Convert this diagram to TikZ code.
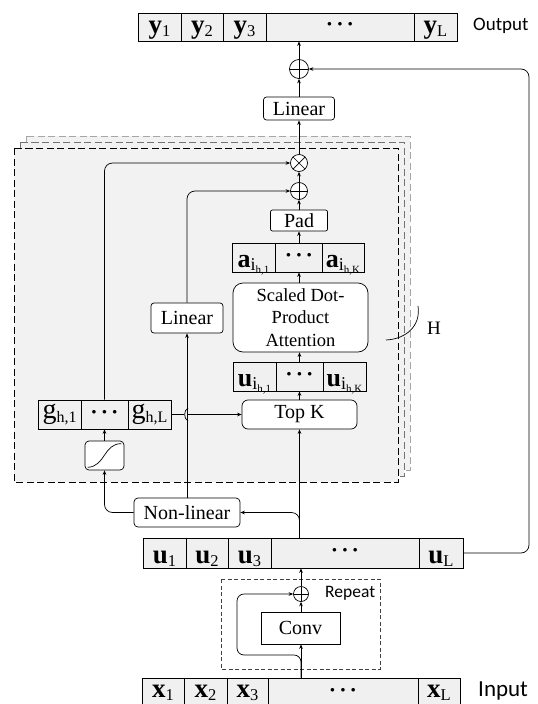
\documentclass[tikz,border=0pt]{standalone}
\usepackage{fontspec}
\setmainfont{Liberation Serif}
\newfontfamily\sansf{Carlito}
\usetikzlibrary{arrows.meta,calc}
\definecolor{bgfill}{HTML}{F2F2F2}
\definecolor{cellfill}{HTML}{F0F0F0}
\newcommand{\cv}[2]{{\fontsize{27}{27}\selectfont\bfseries #1}\raisebox{-3pt}{\fontsize{16.5}{16.5}\selectfont #2}}
\newcommand{\cvv}[3]{{\fontsize{26}{26}\selectfont\bfseries #1}\raisebox{-3pt}{\fontsize{18}{18}\selectfont #2\raisebox{-3pt}{\fontsize{11}{11}\selectfont #3}}}
\newcommand{\cg}[2]{{\fontsize{28}{28}\selectfont #1}\raisebox{-4pt}{\fontsize{16}{16}\selectfont #2}}
\newcommand{\cdd}{{\fontsize{22}{22}\selectfont\bfseries ·\hspace{3pt}·\hspace{3pt}·}}
\tikzset{
  conn/.style={line width=0.7pt, -{Stealth[length=4.5pt,width=3.6pt]}},
  plainln/.style={line width=0.7pt},
  cellbox/.style={draw, line width=0.7pt, fill=cellfill, inner sep=0pt},
  lowtxt/.style={text height=21pt, text depth=1pt},
  ytxt/.style={text height=19pt, text depth=6pt},
  tbox/.style={draw, fill=white, line width=0.7pt, inner sep=0pt, rounded corners=#1, font=\fontsize{20}{22.5}\selectfont},
  tbox/.default=3pt,
  stackbox/.style={fill=bgfill, line width=0.7pt, dash pattern=on 7pt off 3.5pt},
  oplus/.style={circle, draw, line width=0.7pt, fill=white, inner sep=0pt, minimum size=#1,
    path picture={\draw[line width=0.7pt] (path picture bounding box.north) -- (path picture bounding box.south)
      (path picture bounding box.west) -- (path picture bounding box.east);}},
  otimes/.style={circle, draw, line width=0.7pt, fill=white, inner sep=0pt, minimum size=#1,
    path picture={\draw[line width=0.7pt] (path picture bounding box.north west) -- (path picture bounding box.south east)
      (path picture bounding box.south west) -- (path picture bounding box.north east);}},
  sidelabel/.style={anchor=west, inner sep=0pt}
}
\begin{document}
\begin{tikzpicture}[x=1pt,y=-1pt]
\useasboundingbox (0,0) rectangle (538,704);
% stacked head boxes
\draw[stackbox, draw=black!35] (26,136) rectangle (410,470);
\draw[stackbox, draw=black!55] (20,142) rectangle (404,476);
\draw[stackbox, draw=black] (14,148) rectangle (398,482);
% repeat box
\draw[line width=0.7pt, dash pattern=on 4pt off 2.5pt, draw=black!75] (221,579) rectangle (380,669);

% output row
\node[cellbox, ytxt, minimum width=43, minimum height=28] (y1) at (159.5,27) {\cv{y}{1}};
\node[cellbox, ytxt, minimum width=42, minimum height=28] (y2) at (202,27) {\cv{y}{2}};
\node[cellbox, ytxt, minimum width=43, minimum height=28] (y3) at (244.5,27) {\cv{y}{3}};
\node[cellbox, minimum width=148, minimum height=28] (yd) at (340,27) {\cdd};
\node[cellbox, ytxt, minimum width=43, minimum height=28] (yL) at (435.5,27) {\cv{y}{L}};
\node[sidelabel, font=\sansf\fontsize{19}{19}\selectfont] (outlbl) at (473,26) {Output};

\node[oplus=19] (op1) at (299,69) {};
\node[tbox=3pt, minimum width=71, minimum height=23] (lin1) at (299,108.5) {Linear};

\node[otimes=17] (ot) at (299,163) {};
\node[oplus=17] (op2) at (299,191) {};
\node[tbox=2pt, minimum width=57, minimum height=21] (pad) at (299,220.5) {Pad};

\node[cellbox, lowtxt, minimum width=43, minimum height=29] (a1) at (253.5,257.5) {\cvv{a}{i}{h,1}};
\node[cellbox, minimum width=47, minimum height=29] (a2) at (299,257.5) {\cdd};
\node[cellbox, lowtxt, minimum width=42, minimum height=29] (a3) at (343,257.5) {\cvv{a}{i}{h,K}};

\node[tbox=10pt, minimum width=135, minimum height=69, align=center, font=\fontsize{18.5}{22.5}\selectfont] (att) at (300.5,317.5) {Scaled Dot-\\Product\\Attention};
\node[tbox=3pt, minimum width=72, minimum height=30] (lin2) at (187,318) {Linear};

\node[cellbox, lowtxt, minimum width=43, minimum height=29] (u1i) at (254.5,376.5) {\cvv{u}{i}{h,1}};
\node[cellbox, minimum width=47, minimum height=29] (u2i) at (299.5,376.5) {\cdd};
\node[cellbox, lowtxt, minimum width=43, minimum height=29] (u3i) at (344.5,376.5) {\cvv{u}{i}{h,K}};

\node[tbox=6pt, minimum width=115, minimum height=29] (topk) at (299.5,414.5) {Top K};

\node[cellbox, minimum width=43, minimum height=29] (g1) at (59.5,414.5) {\cg{g}{h,1}};
\node[cellbox, minimum width=47, minimum height=29] (g2) at (104.5,414.5) {\cdd};
\node[cellbox, minimum width=43, minimum height=29] (g3) at (149.5,414.5) {\cg{g}{h,L}};

\node[tbox=4pt, minimum width=39, minimum height=29] (sig) at (104.5,455.5) {};
\draw[plainln] ($(sig.south west)+(3,-3)$) .. controls ($(sig.south west)+(21,-4)$) and ($(sig.north east)+(-21,3)$) .. ($(sig.north east)+(-3,3)$);

\node[tbox=4pt, minimum width=106, minimum height=29] (nl) at (187,512.5) {Non-linear};

% u row
\node[cellbox, lowtxt, minimum width=43, minimum height=30] (u1) at (164.5,553) {\cv{u}{1}};
\node[cellbox, lowtxt, minimum width=42, minimum height=30] (u2) at (207,553) {\cv{u}{2}};
\node[cellbox, lowtxt, minimum width=43, minimum height=30] (u3) at (249.5,553) {\cv{u}{3}};
\node[cellbox, minimum width=148, minimum height=30] (ud) at (345,553) {\cdd};
\node[cellbox, lowtxt, minimum width=44, minimum height=30] (uL) at (441,553) {\cv{u}{L}};

% repeat block
\node[oplus=15] (op3) at (301,594) {};
\node[sidelabel, font=\sansf\fontsize{17.5}{17.5}\selectfont] (replbl) at (325,593) {Repeat};
\node[draw, line width=0.7pt, fill=white, inner sep=0pt, minimum width=79, minimum height=32, font=\fontsize{20}{22}\selectfont] (conv) at (300.5,628) {Conv};

% x row (cut by the lower edge, as in the reference)
\node[cellbox, minimum width=42, minimum height=30] (x1) at (163,693) {\cv{x}{1}};
\node[cellbox, minimum width=43, minimum height=30] (x2) at (205.5,693) {\cv{x}{2}};
\node[cellbox, minimum width=41, minimum height=30] (x3) at (247.5,693) {\cv{x}{3}};
\node[cellbox, minimum width=150, minimum height=30] (xd) at (343,693) {\cdd};
\node[cellbox, minimum width=42, minimum height=30] (xL) at (439,693) {\cv{x}{L}};
\node[sidelabel, font=\sansf\fontsize{23}{23}\selectfont] (inlbl) at (478,691) {Input};

% H label and brace
\node[inner sep=0pt, font=\fontsize{19}{19}\selectfont] (H) at (434,328) {H};
\draw[plainln] (418,306) .. controls (421,326) and (406,339) .. (386,340);

% connectors: repeat block
\coordinate (skipA) at (237,655);
\draw[conn] (op3 |- xd.north) -- (conv.south -| op3);
\draw[conn] (conv.north -| op3) -- (op3.south);
\draw[conn] (op3.north) -- (op3 |- ud.south);
\draw[conn, rounded corners=7pt] (op3 |- xd.north) |- (skipA) |- (op3.west);

% u -> top K, non-linear
\draw[conn] (topk |- ud.north) -- (topk.south);
\draw[conn, rounded corners=8pt] (topk |- ud.north) |- (nl.east);
\draw[conn] (nl.north) -- (lin2.south);
\draw[conn, rounded corners=8pt] (nl.west) -| (sig.south);
\draw[conn] (sig.north) -- (g2.south);
\draw[conn, rounded corners=8pt] (g2.north) |- (ot.west);

% g -> top K with hop
\coordinate (hop) at (lin2.south |- topk.west);
\draw[plainln] (g3.east) -- ($(hop)+(-3,0)$);
\draw[plainln] ($(hop)+(1,-6.5)$) .. controls ($(hop)+(-3.5,-4)$) and ($(hop)+(-3.5,4)$) .. ($(hop)+(1,6.5)$);
\draw[conn] ($(hop)+(1,0)$) -- (topk.west);

% attention column
\draw[conn] (topk.north) -- (u2i.south);
\draw[conn] (u2i.north) -- (u2i.north |- att.south);
\draw[conn] (att.north -| a2) -- (a2.south);
\draw[conn] (a2.north) -- (pad.south);
\draw[conn] (pad.north) -- (op2.south);
\draw[conn, rounded corners=8pt] (lin2.north) |- (op2.west);
\draw[conn] (op2.north) -- (ot.south);
\draw[conn] (ot.north) -- (lin1.south);
\draw[conn] (lin1.north) -- (op1.south);
\draw[conn] (op1.north) -- (op1.north |- yd.south);

% residual
\coordinate (rside) at (529,0);
\draw[conn, rounded corners=8pt] (uL.east) -| (rside |- op1) -- (op1.east);
\end{tikzpicture}
\end{document}
